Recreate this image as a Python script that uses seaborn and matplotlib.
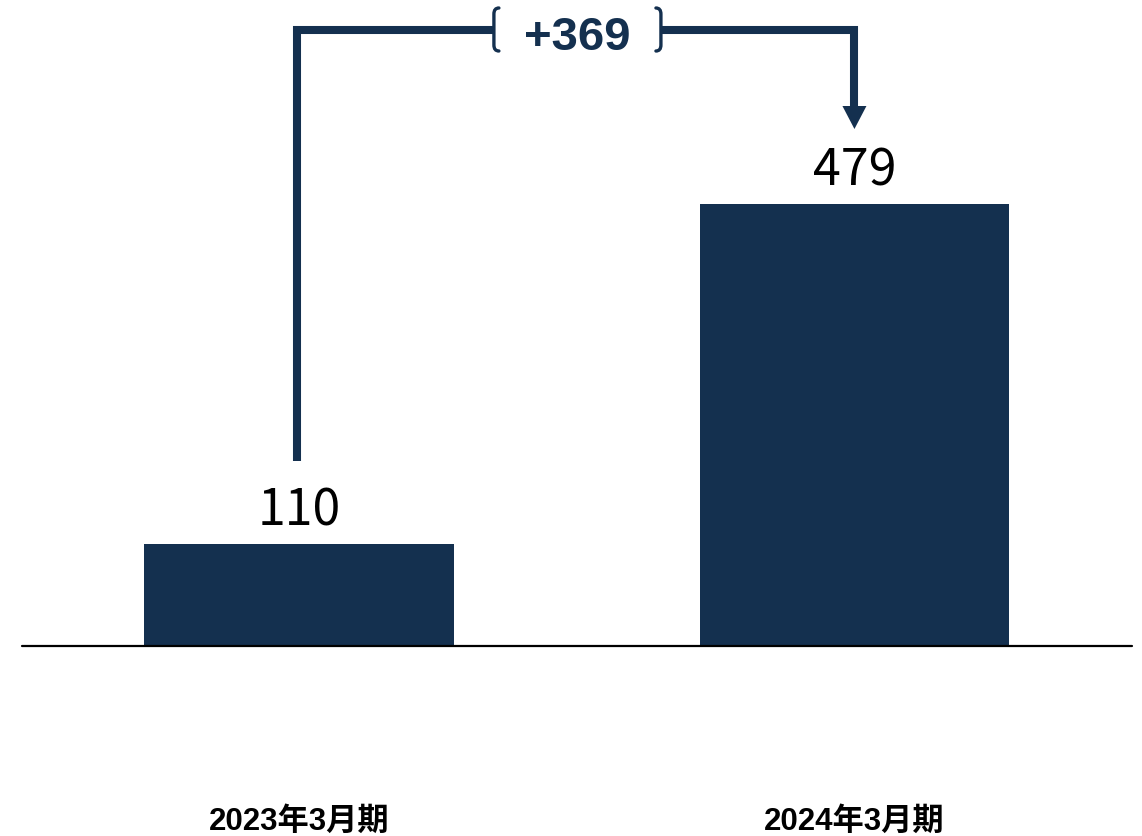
import matplotlib
matplotlib.use("Agg")
import matplotlib.pyplot as plt
import seaborn as sns
import pandas as pd
from matplotlib.path import Path
from matplotlib.patches import PathPatch

categories = ["2023年3月期", "2024年3月期"]
values = [110, 479]

NAVY = "#14304F"

sns.set_theme(style="white")
plt.rcParams['font.family'] = ['Liberation Sans', 'Noto Sans CJK JP', 'DejaVu Sans']

df = pd.DataFrame({"cat": categories, "val": values})

fig = plt.figure(figsize=(11.42, 8.37), dpi=100)
ax = fig.add_axes([0, 0, 1, 1])
sns.barplot(data=df, x="cat", y="val", color=NAVY, saturation=1, width=0.557,
            linewidth=0, ax=ax)

# scale: px per unit
ppu = 441 / 479
ax.set_xlim(-0.538, 1.5176)
ax.set_ylim(-191 / ppu, 646 / ppu)
ax.axis("off")

ax.axhline(-1 / ppu, xmin=22 / 1142, xmax=1132 / 1142, color="black", lw=1.6, zorder=3)

# value labels
for i, v in enumerate(values):
    ax.text(i, v + 19 / ppu, f"{v}", ha="center", va="baseline",
            fontsize=36, family=['Noto Sans CJK JP'], color="black")
    ax.text(i, -184 / ppu, categories[i], ha="center", va="baseline",
            fontsize=22.5, fontweight="bold", color="black",
            family=['Liberation Sans', 'Noto Sans CJK JP'])

# connector
y_top = 615 / ppu
y_start = values[0] + 83 / ppu
tip = values[1] + 75 / ppu
head_h = 23 / ppu
head_w = 12 / 555.5
xl, xr = 0 - 2 / 555.5, 1.0
bl = (493 - 299) / 555.5
br = (662 - 299) / 555.5
lw = 5.8
ax.plot([xl, xl, bl], [y_start, y_top, y_top], color=NAVY, lw=lw,
        solid_joinstyle="miter", solid_capstyle="butt")
ax.plot([br, xr, xr], [y_top, y_top, tip + head_h - 1 / ppu], color=NAVY, lw=lw,
        solid_joinstyle="miter", solid_capstyle="butt")
ax.fill([xr - head_w, xr + head_w, xr], [tip + head_h, tip + head_h, tip],
        color=NAVY, lw=0)

# brackets
def bracket(xc, side):
    top = (646 - 9) / ppu
    bot = (646 - 52) / ppu
    r_y = 6 / ppu
    r_x = 5 / 555.5 * side
    verts = [(xc + r_x, top), (xc, top), (xc, top - r_y),
             (xc, bot + r_y), (xc, bot), (xc + r_x, bot)]
    codes = [Path.MOVETO, Path.CURVE3, Path.CURVE3,
             Path.LINETO, Path.CURVE3, Path.CURVE3]
    ax.add_patch(PathPatch(Path(verts, codes), fill=False, ec=NAVY, lw=2.4,
                           capstyle="round"))

bracket((494 - 299) / 555.5, 1)
bracket((661 - 299) / 555.5, -1)

ax.text((577 - 299) / 555.5, (646 - 50) / ppu, f"+{values[1] - values[0]}", ha="center",
        va="baseline", fontsize=34, fontweight="bold", color=NAVY,
        family=['Liberation Sans'])

fig.savefig("out.png", dpi=100)
